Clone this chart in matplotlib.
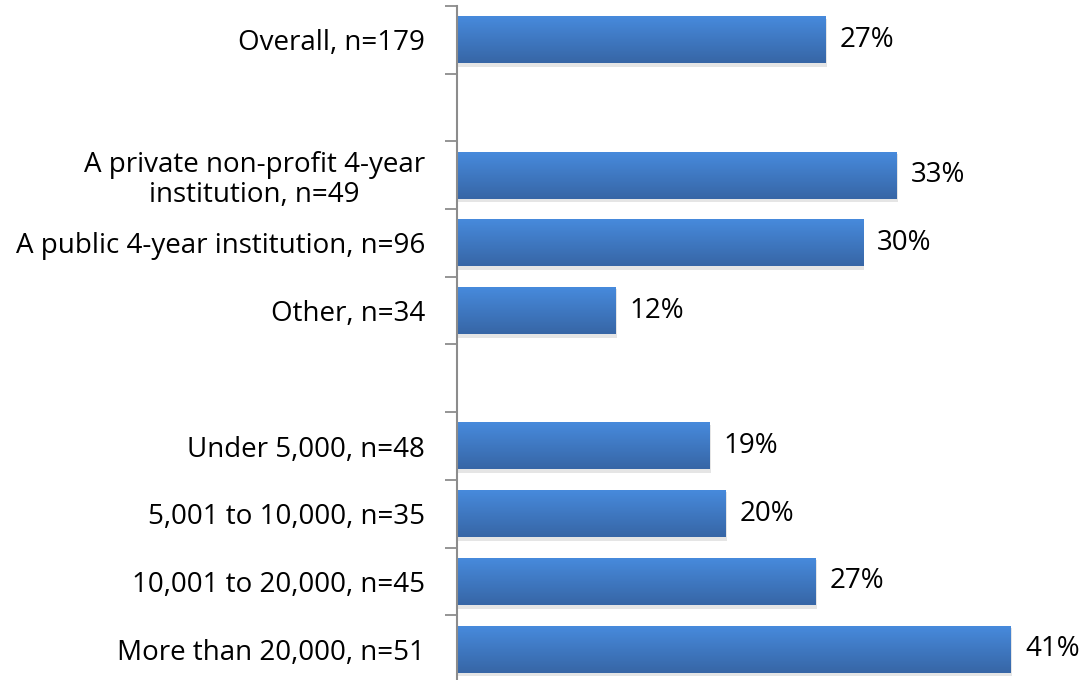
import numpy as np
import matplotlib.pyplot as plt
from matplotlib.patches import Rectangle

plt.rcParams['font.family'] = ['Open Sans', 'DejaVu Sans']

# slots (blank strings leave a gap)
categories = ["Overall, n=179", "",
              "A private non-profit 4-year\ninstitution, n=49",
              "A public 4-year institution, n=96",
              "Other, n=34", "",
              "Under 5,000, n=48", "5,001 to 10,000, n=35",
              "10,001 to 20,000, n=45", "More than 20,000, n=51"]
values = [27.4, None, 32.7, 30.2, 11.8, None, 18.8, 20.0, 26.7, 41.2]

fig = plt.figure(figsize=(10.82, 6.8), dpi=100)
ax = fig.add_axes([457 / 1082, -3 / 680, 605 / 1082, 677 / 680])

n = len(categories)
bar_h = 0.69
grad = np.linspace(0, 1, 64).reshape(-1, 1)
top_c = np.array([0x47, 0x8a, 0xdc]) / 255
bot_c = np.array([0x37, 0x66, 0xa6]) / 255
img = top_c[None, None, :] * (1 - grad[..., None]) + bot_c[None, None, :] * grad[..., None]

for i, v in enumerate(values):
    if v is None:
        continue
    y0, y1 = i - bar_h / 2, i + bar_h / 2
    # soft shadow
    ax.add_patch(Rectangle((0, y0 + 0.03), v + 0.1, bar_h + 0.025,
                           color="0.6", alpha=0.25, lw=0, zorder=1))
    ax.imshow(img, extent=(0, v, y1, y0), aspect="auto", zorder=2,
              interpolation="bilinear")
    ax.text(v + 1.05, i, f"{v:.0f}%", va="center", ha="left", fontsize=20)

ax.set_xlim(0, 45)
ax.set_ylim(n - 0.5, -0.5)
ax.set_yticks(range(n))
ax.set_yticklabels(categories, fontsize=20, linespacing=1.1)
ax.set_yticks(np.arange(-0.5, n, 1.0), minor=True)
ax.tick_params(axis="y", which="major", length=0, pad=23)
ax.tick_params(axis="y", which="minor", length=9, width=1.3, color="#8c8c8c")
ax.set_xticks([])
for s in ["top", "right", "bottom"]:
    ax.spines[s].set_visible(False)
ax.spines["left"].set_color("#8c8c8c")
ax.spines["left"].set_linewidth(1.5)
for lab in ax.get_yticklabels():
    lab.set_horizontalalignment("right")
    lab.set_multialignment("center")

fig.savefig("out.png", dpi=100)
